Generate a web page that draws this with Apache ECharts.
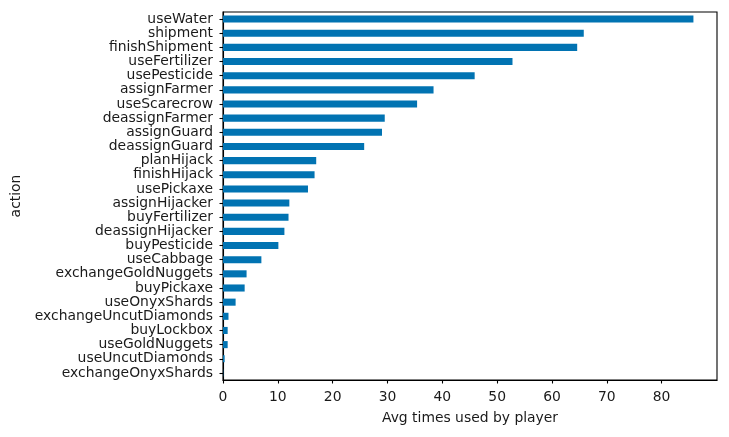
<!DOCTYPE html>
<html>
<head>
<meta charset="utf-8">
<script src="https://cdn.jsdelivr.net/npm/echarts@6/dist/echarts.min.js"></script>
<style>
html,body{margin:0;padding:0;background:#fff;}
#chart{width:729px;height:437px;}
</style>
</head>
<body>
<div id="chart"></div>
<script>
const categories = ["useWater","shipment","finishShipment","useFertilizer","usePesticide","assignFarmer","useScarecrow","deassignFarmer","assignGuard","deassignGuard","planHijack","finishHijack","usePickaxe","assignHijacker","buyFertilizer","deassignHijacker","buyPesticide","useCabbage","exchangeGoldNuggets","buyPickaxe","useOnyxShards","exchangeUncutDiamonds","buyLockbox","useGoldNuggets","useUncutDiamonds","exchangeOnyxShards"];
const values = [85.8,65.8,64.6,52.8,45.9,38.4,35.4,29.5,29.0,25.75,17.0,16.7,15.5,12.1,11.95,11.2,10.1,7.0,4.3,3.95,2.3,1.0,0.85,0.85,0.3,0.05];
const xTicks = [0,10,20,30,40,50,60,70,80];
const xName = "Avg times used by player";
const yName = "action";

const chart = echarts.init(document.getElementById('chart'), null, {renderer:'canvas'});
const font = 'DejaVu Sans';
chart.setOption({
  animation:false,
  backgroundColor:'#fff',
  grid:{left:223,right:12,top:12,bottom:57,show:true,borderColor:'#000',borderWidth:1.1,backgroundColor:'transparent'},
  xAxis:{
    type:'value',min:0,max:90.1,interval:10,
    name:xName,nameLocation:'middle',nameGap:31,
    nameTextStyle:{fontFamily:font,fontSize:13.9,color:'#1a1a1a',verticalAlign:'top'},
    axisLine:{show:true,lineStyle:{color:'#000',width:1.1}},
    axisTick:{show:true,length:3.5,inside:false,lineStyle:{color:'#000',width:1.1},customValues:xTicks},
    axisLabel:{fontFamily:font,fontSize:13.9,color:'#1a1a1a',margin:10,customValues:xTicks},
    splitLine:{show:false}
  },
  yAxis:{
    type:'category',data:categories,inverse:true,
    name:yName,nameLocation:'middle',nameGap:189,
    nameTextStyle:{fontFamily:font,fontSize:13.9,color:'#1a1a1a'},
    axisLine:{show:true,lineStyle:{color:'#000',width:1.1}},
    axisTick:{show:true,alignWithLabel:true,length:3.5,lineStyle:{color:'#000',width:1.1}},
    axisLabel:{fontFamily:font,fontSize:13.9,color:'#1a1a1a',margin:10,interval:0},
    splitLine:{show:false}
  },
  series:[{
    type:'bar',data:values,barWidth:'50%',
    itemStyle:{color:'#0173b2'}
  }]
});
</script>
</body>
</html>
